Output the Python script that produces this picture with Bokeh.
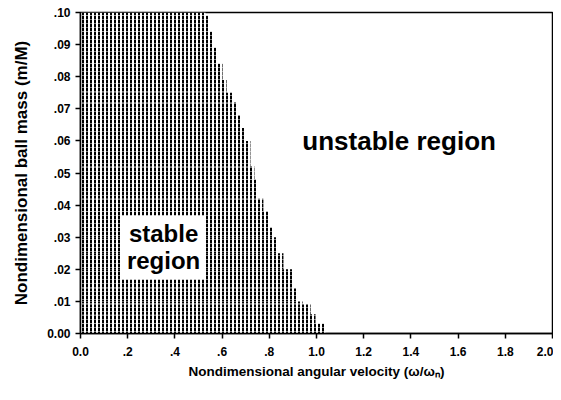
from bokeh.plotting import figure
from bokeh.models import Range1d, FixedTicker, Label, ColumnDataSource
from bokeh.embed import file_html
from bokeh.resources import INLINE

# Stability boundary: each band of ball mass (m/M)
# and the critical nondimensional angular velocity below which it is stable.
mass_lo = [0.099, 0.094, 0.089, 0.084, 0.079, 0.075, 0.072, 0.068, 0.064, 0.060,
           0.052, 0.048, 0.042, 0.038, 0.033, 0.030, 0.025, 0.020, 0.014, 0.010,
           0.009, 0.006, 0.003, 0.000]
mass_hi = [0.100, 0.099, 0.094, 0.089, 0.084, 0.079, 0.075, 0.072, 0.068, 0.064,
           0.060, 0.052, 0.048, 0.042, 0.038, 0.033, 0.030, 0.025, 0.020, 0.014,
           0.010, 0.009, 0.006, 0.003]
omega_crit = [0.530, 0.542, 0.559, 0.581, 0.602, 0.619, 0.644, 0.661, 0.678, 0.699,
              0.720, 0.737, 0.746, 0.775, 0.797, 0.818, 0.835, 0.860, 0.898, 0.919,
              0.941, 0.975, 0.996, 1.038]
omega_start = [0.0] * len(omega_crit)

x_ticks = [0.0, 0.2, 0.4, 0.6, 0.8, 1.0, 1.2, 1.4, 1.6, 1.8, 2.0]
x_tick_labels = ["0.0", ".2", ".4", ".6", ".8", "1.0", "1.2", "1.4", "1.6", "1.8", "2.0"]
y_ticks = [0.0, 0.01, 0.02, 0.03, 0.04, 0.05, 0.06, 0.07, 0.08, 0.09, 0.1]
y_tick_labels = ["0.00", ".01", ".02", ".03", ".04", ".05", ".06", ".07", ".08", ".09", ".10"]

FONT = "Liberation Sans"

p = figure(width=553, height=392, output_backend="svg", toolbar_location=None,
           x_range=Range1d(0, 2.0), y_range=Range1d(0, 0.1),
           min_border_left=80, min_border_right=1, min_border_top=12, min_border_bottom=59)
p.background_fill_color = "white"
p.border_fill_color = "white"
p.grid.visible = False
p.outline_line_color = "black"
p.outline_line_width = 1.5

src = ColumnDataSource(dict(left=omega_start, right=omega_crit, bottom=mass_lo, top=mass_hi))
p.quad(left="left", right="right", bottom="bottom", top="top", source=src,
       fill_color="white", line_color=None,
       hatch_pattern=":", hatch_color="black", hatch_scale=4, hatch_weight=2)

for ax, ticks, labels in ((p.xaxis[0], x_ticks, x_tick_labels), (p.yaxis[0], y_ticks, y_tick_labels)):
    ax.ticker = FixedTicker(ticks=ticks)
    ax.major_label_overrides = {t: l for t, l in zip(ticks, labels)}
    ax.minor_tick_line_color = None
    ax.major_tick_in = 0
    ax.major_tick_out = 5
    ax.major_tick_line_width = 1.5
    ax.axis_line_width = 1.5
    ax.major_label_text_font = FONT
    ax.major_label_text_font_style = "bold"
    ax.major_label_text_font_size = "12px"
    ax.major_label_text_color = "black"
    ax.axis_label_text_font = FONT
    ax.axis_label_text_font_style = "bold"
    ax.axis_label_text_color = "black"

p.xaxis.major_label_standoff = 8
p.yaxis.major_label_standoff = 5
p.xaxis.axis_label = "Nondimensional angular velocity (\u03c9/\u03c9\u2099)"
p.xaxis.axis_label_text_font_size = "13.5px"
p.xaxis.axis_label_standoff = 5
p.yaxis.axis_label = "Nondimensional ball mass (m/M)"
p.yaxis.axis_label_text_font_size = "17px"
p.yaxis.axis_label_standoff = 13

p.add_layout(Label(x=0.94, y=0.060, text="unstable region", text_font=FONT,
                   text_font_style="bold", text_font_size="26px", text_color="black",
                   text_baseline="alphabetic", text_align="left"))
p.add_layout(Label(x=0.352, y=0.0268, text="stable\nregion", text_font=FONT,
                   text_font_style="bold", text_font_size="24px", text_color="black",
                   text_align="center", text_baseline="middle", text_line_height=1.0,
                   background_fill_color="white", padding=5))

open("out.html", "w").write(file_html(p, INLINE))
